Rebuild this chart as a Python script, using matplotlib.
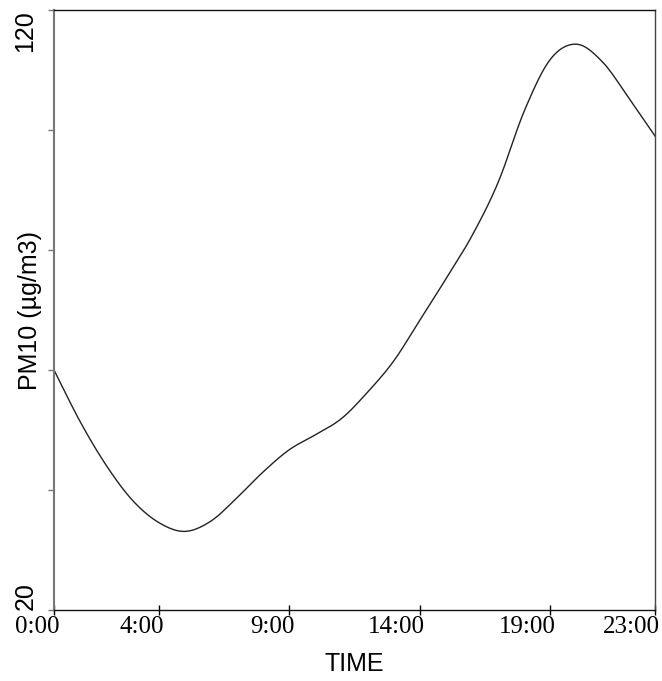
import numpy as np
import matplotlib.pyplot as plt
import matplotlib.transforms as mtransforms

# hourly PM10 values
hours = list(range(24))
pm10 = [60.0, 51.4, 44.1, 38.3, 34.6, 33.1, 34.8, 38.7, 43.0, 46.7, 49.2, 51.9,
        56.3, 61.5, 68.3, 75.2, 82.4, 91.3, 103.2, 111.8, 114.3, 111.3, 105.3, 99.0]

xtick_pos = [0, 4, 9, 14, 19, 23]
xtick_labels = ["0:00", "4:00", "9:00", "14:00", "19:00", "23:00"]
ytick_pos = [20, 40, 60, 80, 100, 120]
ytick_labels = ["20", "", "", "", "", "120"]


def smooth_line(x, y, n=12):
    # Catmull-Rom drawing of the hourly points (like a "smoothed line" style)
    x = np.asarray(x, dtype=float)
    y = np.asarray(y, dtype=float)
    px = np.concatenate([[2 * x[0] - x[1]], x, [2 * x[-1] - x[-2]]])
    py = np.concatenate([[2 * y[0] - y[1]], y, [2 * y[-1] - y[-2]]])
    t = np.linspace(0, 1, n, endpoint=False)
    xs, ys = [], []
    for i in range(1, len(px) - 2):
        for arr, out in ((px, xs), (py, ys)):
            p0, p1, p2, p3 = arr[i - 1], arr[i], arr[i + 1], arr[i + 2]
            out.extend(0.5 * (2 * p1 + (-p0 + p2) * t
                              + (2 * p0 - 5 * p1 + 4 * p2 - p3) * t ** 2
                              + (-p0 + 3 * p1 - 3 * p2 + p3) * t ** 3))
    xs.append(x[-1])
    ys.append(y[-1])
    return xs, ys


def main():
    fig = plt.figure(figsize=(6.62, 6.81), dpi=100)
    ax = fig.add_axes([54 / 662, 1 - 610 / 681, 601 / 662, 600 / 681])

    sx, sy = smooth_line(hours, pm10)
    ax.plot(sx, sy, color="#222222", linewidth=1.0)

    ax.set_xlim(0, 23)
    ax.set_ylim(20, 120)

    ax.set_xticks(xtick_pos)
    ax.set_xticklabels(xtick_labels, fontfamily="Liberation Serif", fontsize=18)
    ax.tick_params(axis="x", direction="inout", length=7, width=1, pad=1)
    shift = mtransforms.ScaledTranslation(5 / 100, 0, fig.dpi_scale_trans)
    for lab in ax.get_xticklabels():
        lab.set_ha("right")
        lab.set_transform(lab.get_transform() + shift)

    ax.set_yticks(ytick_pos)
    ax.set_yticklabels(ytick_labels, fontfamily="Liberation Sans", fontsize=18,
                       rotation=90)
    ax.tick_params(axis="y", direction="out", length=4, width=1, pad=8,
                   color="#777777")
    ylabs = ax.get_yticklabels()
    ylabs[0].set_va("bottom")
    ylabs[-1].set_va("top")

    ax.set_xlabel("TIME", fontfamily="Liberation Sans", fontsize=18, labelpad=10)
    ax.set_ylabel("PM10 (µg/m3)", fontfamily="Liberation Sans", fontsize=18,
                  va="center")
    ax.yaxis.set_label_coords(-24 / 601, 0.5)

    ax.spines["left"].set_color("#777777")
    ax.spines["left"].set_linewidth(1.5)
    ax.spines["right"].set_color("#444444")
    ax.spines["top"].set_color("#111111")
    ax.spines["bottom"].set_color("#111111")
    for s in ["right", "top", "bottom"]:
        ax.spines[s].set_linewidth(1.0)

    fig.savefig("out.png", dpi=100)
    plt.close(fig)


if __name__ == "__main__":
    main()
